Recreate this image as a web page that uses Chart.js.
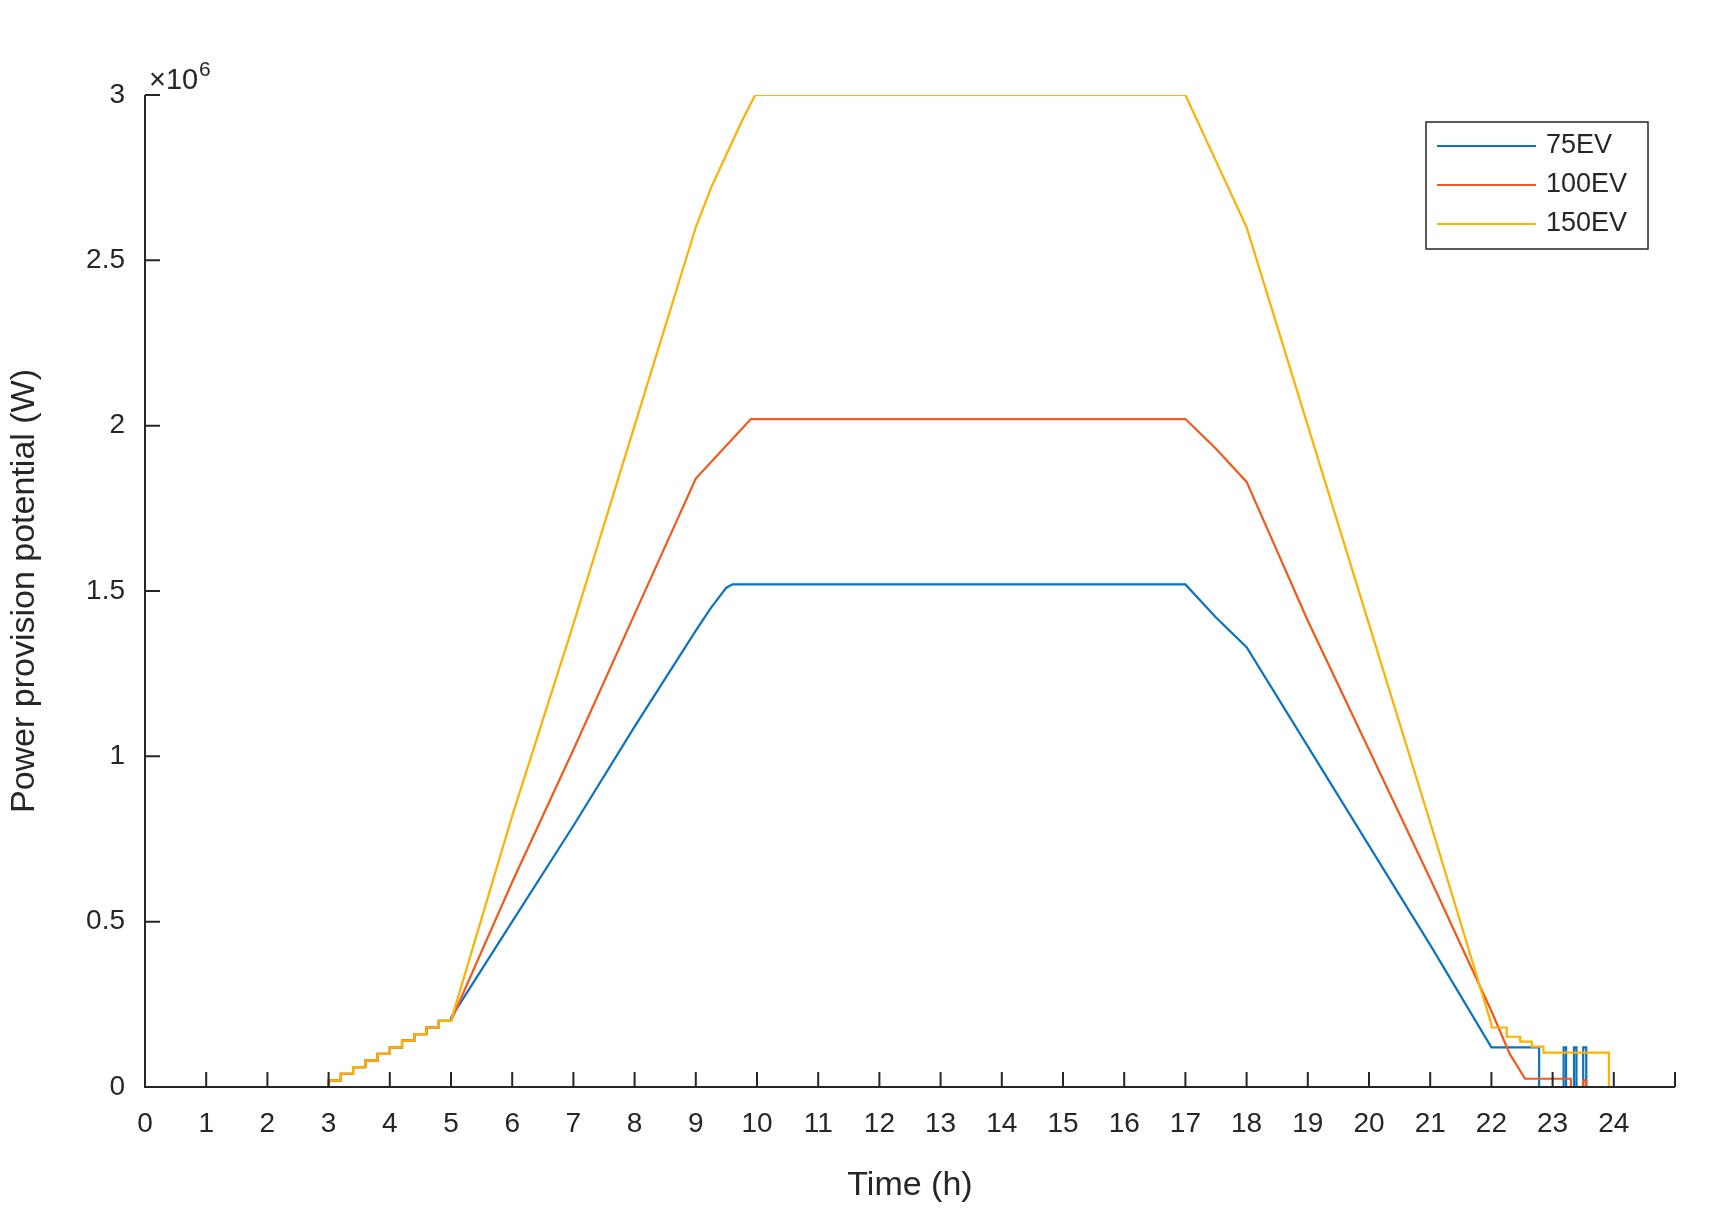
<!DOCTYPE html>
<html>
<head>
<meta charset="utf-8">
<script src="https://cdn.jsdelivr.net/npm/chart.js@4/dist/chart.umd.min.js"></script>
<style>
  html, body { margin: 0; padding: 0; background: #fff; }
  #wrap { width: 1712px; height: 1210px; }
</style>
</head>
<body>
<div id="wrap"><canvas id="chart"></canvas></div>
<script>
// values in 10^6 W, time in hours
const preT = [0, 3, 3, 3.2, 3.2, 3.4, 3.4, 3.6, 3.6, 3.8, 3.8, 4.0, 4.0, 4.2, 4.2, 4.4, 4.4, 4.6, 4.6, 4.8, 4.8, 5.0];
const preP = [0, 0, .02, .02, .04, .04, .06, .06, .08, .08, .10, .10, .12, .12, .14, .14, .16, .16, .18, .18, .20, .20];

const ev75T = [5.0, 6, 7, 8, 9, 9.25, 9.5, 9.6, 17, 17.5, 18, 19, 20, 21, 22, 22.78, 22.78, 23.18, 23.18, 23.22, 23.22, 23.35, 23.35, 23.39, 23.39, 23.5, 23.5, 23.55, 23.55, 23.9];
const ev75P = [.21, .50, .79, 1.09, 1.38, 1.45, 1.51, 1.52, 1.52, 1.42, 1.33, 1.03, .73, .43, .12, .12, 0, 0, .12, .12, 0, 0, .12, .12, 0, 0, .12, .12, 0, 0];

const ev100T = [5.0, 6, 7, 8, 9, 9.5, 9.9, 17, 17.5, 18, 19, 20, 21, 22, 22.3, 22.55, 23.3, 23.3, 23.5, 23.5, 23.55, 23.55, 23.9];
const ev100P = [.20, .62, 1.02, 1.43, 1.84, 1.94, 2.02, 2.02, 1.93, 1.83, 1.41, 1.02, .63, .23, .10, .025, .025, 0, 0, .02, .02, 0, 0];

const ev150T = [5.0, 6, 7, 8, 9, 9.25, 9.5, 9.75, 9.97, 17, 17.5, 18, 19, 20, 21, 22, 22.0, 22.25, 22.25, 22.47, 22.47, 22.66, 22.66, 22.85, 22.85, 23.92, 23.92];
const ev150P = [.20, .82, 1.40, 2.00, 2.60, 2.72, 2.82, 2.92, 3.00, 3.00, 2.80, 2.60, 2.00, 1.40, .80, .19, .18, .18, .152, .152, .137, .137, .122, .122, .104, .104, 0];

const seriesNames = ['75EV', '100EV', '150EV'];
const seriesColors = ['#0a72c4', '#f5581a', '#ffb000'];
const xTicks = [0,1,2,3,4,5,6,7,8,9,10,11,12,13,14,15,16,17,18,19,20,21,22,23,24];
const yTicks = [0, 0.5, 1, 1.5, 2, 2.5, 3];

function pts(t, p) { return t.map((x, i) => ({ x: x, y: p[i] })); }
const allT = [preT.concat(ev75T), preT.concat(ev100T), preT.concat(ev150T)];
const allP = [preP.concat(ev75P), preP.concat(ev100P), preP.concat(ev150P)];

const FONT = '"Liberation Sans", Arial, sans-serif';
const AX = '#262626';

const extras = {
  id: 'extras',
  afterDraw(chart) {
    const ctx = chart.ctx, a = chart.chartArea;
    const xs = chart.scales.x, ys = chart.scales.y;
    ctx.save();
    ctx.strokeStyle = AX; ctx.lineWidth = 2;
    ctx.beginPath();
    ctx.moveTo(a.left, a.top); ctx.lineTo(a.left, a.bottom); ctx.lineTo(a.right, a.bottom);
    for (let v = 0; v <= 25; v++) { const x = xs.getPixelForValue(v); ctx.moveTo(x, a.bottom); ctx.lineTo(x, a.bottom - 15); }
    yTicks.forEach(v => { const y = ys.getPixelForValue(v); ctx.moveTo(a.left, y); ctx.lineTo(a.left + 15, y); });
    ctx.stroke();
    // exponent
    ctx.fillStyle = AX; ctx.textBaseline = 'alphabetic'; ctx.textAlign = 'left';
    ctx.font = '29px ' + FONT; ctx.fillText('\u00d710', a.left + 4, a.top - 6);
    ctx.font = '21px ' + FONT; ctx.fillText('6', a.left + 54, a.top - 19);
    // legend
    const lx = 1426, ly = 122, lw = 222, lh = 127;
    ctx.fillStyle = '#fff'; ctx.fillRect(lx, ly, lw, lh);
    ctx.strokeStyle = AX; ctx.lineWidth = 1.5; ctx.strokeRect(lx, ly, lw, lh);
    ctx.font = '27px ' + FONT; ctx.textBaseline = 'middle';
    seriesNames.forEach((n, i) => {
      const y = 146 + i * 39;
      ctx.strokeStyle = seriesColors[i]; ctx.lineWidth = 2.2;
      ctx.beginPath(); ctx.moveTo(1437, y); ctx.lineTo(1536, y); ctx.stroke();
      ctx.fillStyle = AX; ctx.fillText(n, 1546, y);
    });
    ctx.restore();
  }
};

new Chart(document.getElementById('chart').getContext('2d'), {
  type: 'line',
  data: {
    datasets: seriesNames.map((n, i) => ({
      label: n,
      data: pts(allT[i], allP[i]),
      borderColor: seriesColors[i],
      borderWidth: 2.2,
      pointRadius: 0,
      fill: false,
      tension: 0,
      order: seriesNames.length - i
    }))
  },
  options: {
    responsive: true,
    maintainAspectRatio: false,
    animation: false,
    layout: { padding: { top: 95, right: 37, left: 0, bottom: 0 } },
    plugins: { legend: { display: false }, tooltip: { enabled: false } },
    scales: {
      x: {
        type: 'linear', min: 0, max: 25,
        afterFit(s) { s.height = 123; },
        afterBuildTicks(s) { s.ticks = xTicks.map(v => ({ value: v })); },
        grid: { display: false },
        border: { display: false },
        ticks: { color: AX, font: { family: FONT, size: 28 }, padding: 12, maxRotation: 0, autoSkip: false },
        title: { display: true, text: 'Time (h)', color: AX, font: { family: FONT, size: 34 }, padding: { top: 2 } }
      },
      y: {
        type: 'linear', min: 0, max: 3,
        afterFit(s) { s.width = 145; },
        afterBuildTicks(s) { s.ticks = yTicks.map(v => ({ value: v })); },
        grid: { display: false },
        border: { display: false },
        ticks: { color: AX, font: { family: FONT, size: 28 }, padding: 12, callback: v => String(v) },
        title: { display: true, text: 'Power provision potential (W)', color: AX, font: { family: FONT, size: 34 }, padding: { bottom: 6 } }
      }
    }
  },
  plugins: [extras]
});
</script>
</body>
</html>
